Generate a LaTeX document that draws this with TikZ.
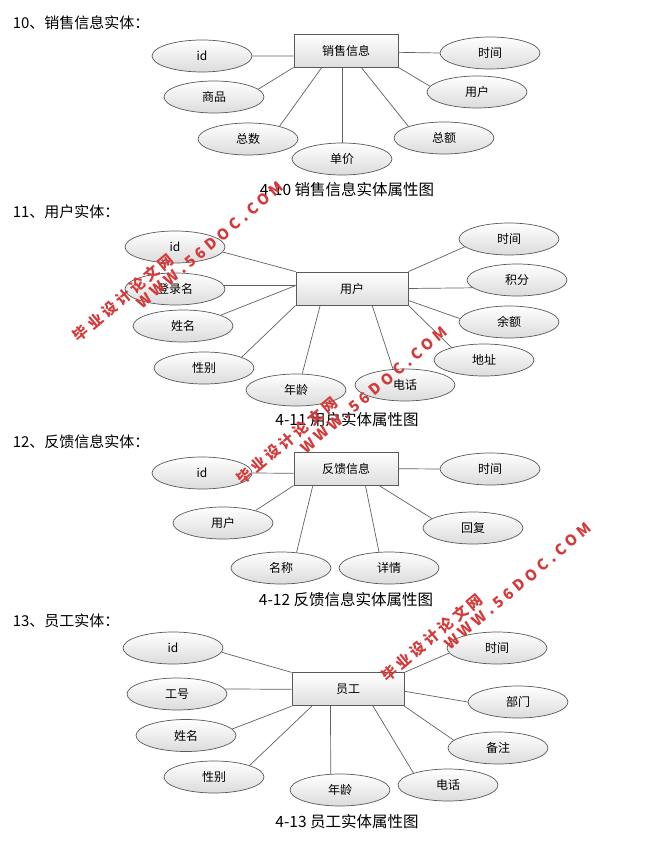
\documentclass[tikz,border=0pt]{standalone}
\usepackage{fontspec}
\usetikzlibrary{shapes.geometric}
\setmainfont{Noto Sans CJK SC}
\definecolor{wmred}{RGB}{212,58,58}
\newcommand\wmcn{毕\hspace{3.5pt}业\hspace{3.5pt}设\hspace{3.5pt}计\hspace{3.5pt}论\hspace{3.5pt}文\hspace{3.5pt}网}
\newcommand\wmen{W\hspace{4pt}W\hspace{4pt}W\hspace{4pt}.\hspace{4pt}5\hspace{4pt}6\hspace{4pt}D\hspace{4pt}O\hspace{4pt}C\hspace{4pt}.\hspace{4pt}C\hspace{4pt}O\hspace{4pt}M}
\begin{document}
\begin{tikzpicture}[x=1pt,y=-1pt,
  attr/.style={ellipse, draw=black!65, line width=0.7pt, top color=white, bottom color=black!14,
    minimum width=100pt, minimum height=32pt, inner sep=0pt, font=\fontsize{12}{12}\selectfont},
  ent/.style={rectangle, draw=black!65, line width=0.8pt, top color=white, bottom color=black!13,
    minimum height=33pt, inner sep=0pt, font=\fontsize{12}{12}\selectfont},
  conn/.style={draw=black!62, line width=0.7pt},
  ttl/.style={anchor=west, inner sep=0pt, font=\fontsize{15}{15}\selectfont},
  capt/.style={inner sep=0pt, font=\fontsize{15.5}{15.5}\selectfont},
  wm/.style={rotate=40, text=wmred, inner sep=0pt, font=\bfseries\fontsize{15}{15}\selectfont}]
\useasboundingbox (0,0) rectangle (657,845);

% ---------- 10 ----------
\node[ttl] (t1) at (12.6,23) {10、销售信息实体：};
\node[ent, minimum width=104pt] (r1) at (346,50.5) {销售信息};
\node[attr] (a1) at (202,56) {id};
\node[attr] (a2) at (490,53) {时间};
\node[attr] (a3) at (214,97) {商品};
\node[attr] (a4) at (477,92) {用户};
\node[attr] (a5) at (248,139) {总数};
\node[attr] (a6) at (444,138) {总额};
\node[attr] (a7) at (342,159) {单价};
\node[capt] (c1) at (347,190) {4-10 销售信息实体属性图};
\draw[conn] (a1.east) -- (r1.186);
\draw[conn] (r1.-2) -- (a2.west);
\draw[conn] (r1.south west) -- (a3.10);
\draw[conn] (r1.-145) -- (a5.22);
\draw[conn] (r1.south -| a7.north) -- (a7.north);
\draw[conn] (r1.-48) -- (a6.162);
\draw[conn] (r1.south east) -- (a4.173);

% ---------- 11 ----------
\node[ttl] (t2) at (12.6,212) {11、用户实体：};
\node[ent, minimum width=112pt] (r2) at (352,288.5) {用户};
\node[attr] (b1) at (175,247) {id};
\node[attr] (b2) at (175,289) {登录名};
\node[attr] (b3) at (183,326) {姓名};
\node[attr] (b4) at (204,368) {性别};
\node[attr] (b5) at (296,390) {年龄};
\node[attr] (b6) at (405,385) {电话};
\node[attr] (b7) at (484,360) {地址};
\node[attr] (b8) at (509,322) {余额};
\node[attr] (b9) at (517,280) {积分};
\node[attr] (b10) at (509,239) {时间};
\node[capt] (c2) at (347,420) {4-11 用户实体属性图};
\draw[conn] (b1.-6) -- (r2.north west);
\draw[conn] (b2.4) -- (r2.177);
\draw[conn] (b3.16) -- (r2.177);
\draw[conn] (b4.16) -- (r2.south west);
\draw[conn] (b5.69) -- (r2.-152);
\draw[conn] (b6.127) -- (r2.-40);
\draw[conn] (b7.159) -- (r2.south east);
\draw[conn] (b8.176) -- (r2.-12);
\draw[conn] (b9.-170) -- (r2.east);
\draw[conn] (b10.-170) -- (r2.north east);

% ---------- 12 ----------
\node[ttl] (t3) at (12.6,442) {12、反馈信息实体：};
\node[ent, minimum width=104pt] (r3) at (346,468.7) {反馈信息};
\node[attr] (d1) at (202,473) {id};
\node[attr] (d2) at (490,469) {时间};
\node[attr] (d3) at (223,523) {用户};
\node[attr] (d4) at (473,528) {回复};
\node[attr] (d5) at (281,568) {名称};
\node[attr] (d6) at (389,568) {详情};
\node[capt] (c3) at (346,599.3) {4-12 反馈信息实体属性图};
\draw[conn] (d1.east) -- (r3.185);
\draw[conn] (r3.east) -- (d2.west);
\draw[conn] (d3.21) -- (r3.south west);
\draw[conn] (d5.45) -- (r3.-153);
\draw[conn] (d6.122) -- (r3.-41);
\draw[conn] (d4.167) -- (r3.-27);

% ---------- 13 ----------
\node[ttl] (t4) at (12.6,621) {13、员工实体：};
\node[ent, minimum width=112pt] (r4) at (348,689.3) {员工};
\node[attr] (e1) at (173,648) {id};
\node[attr] (e2) at (177,694) {工号};
\node[attr] (e3) at (186,735.5) {姓名};
\node[attr] (e4) at (214,777) {性别};
\node[attr] (e5) at (340,790) {年龄};
\node[attr] (e6) at (448,785) {电话};
\node[attr] (e7) at (498,748) {备注};
\node[attr] (e8) at (518,702) {部门};
\node[attr] (e9) at (497,648) {时间};
\node[capt] (c4) at (347,822) {4-13 员工实体属性图};
\draw[conn] (e1.-5) -- (r4.north west);
\draw[conn] (e2.6) -- (r4.west);
\draw[conn] (e3.8) -- (r4.south west);
\draw[conn] (e4.18) -- (r4.-155);
\draw[conn] (e5.120) -- (r4.-136);
\draw[conn] (e6.161) -- (r4.-34);
\draw[conn] (e7.170) -- (r4.south east);
\draw[conn] (e8.west) -- (r4.-2);
\draw[conn] (e9.186) -- (r4.north east);

% ---------- watermarks ----------
\node[wm] (w1a) at (123.4,297.5) {\wmcn};
\node[wm] (w1b) at (210,245) {\wmen};
\node[wm] (w2a) at (286.7,440.8) {\wmcn};
\node[wm] (w2b) at (374,390) {\wmen};
\node[wm] (w3a) at (431.7,637.5) {\wmcn};
\node[wm] (w3b) at (518,586) {\wmen};
\end{tikzpicture}
\end{document}
